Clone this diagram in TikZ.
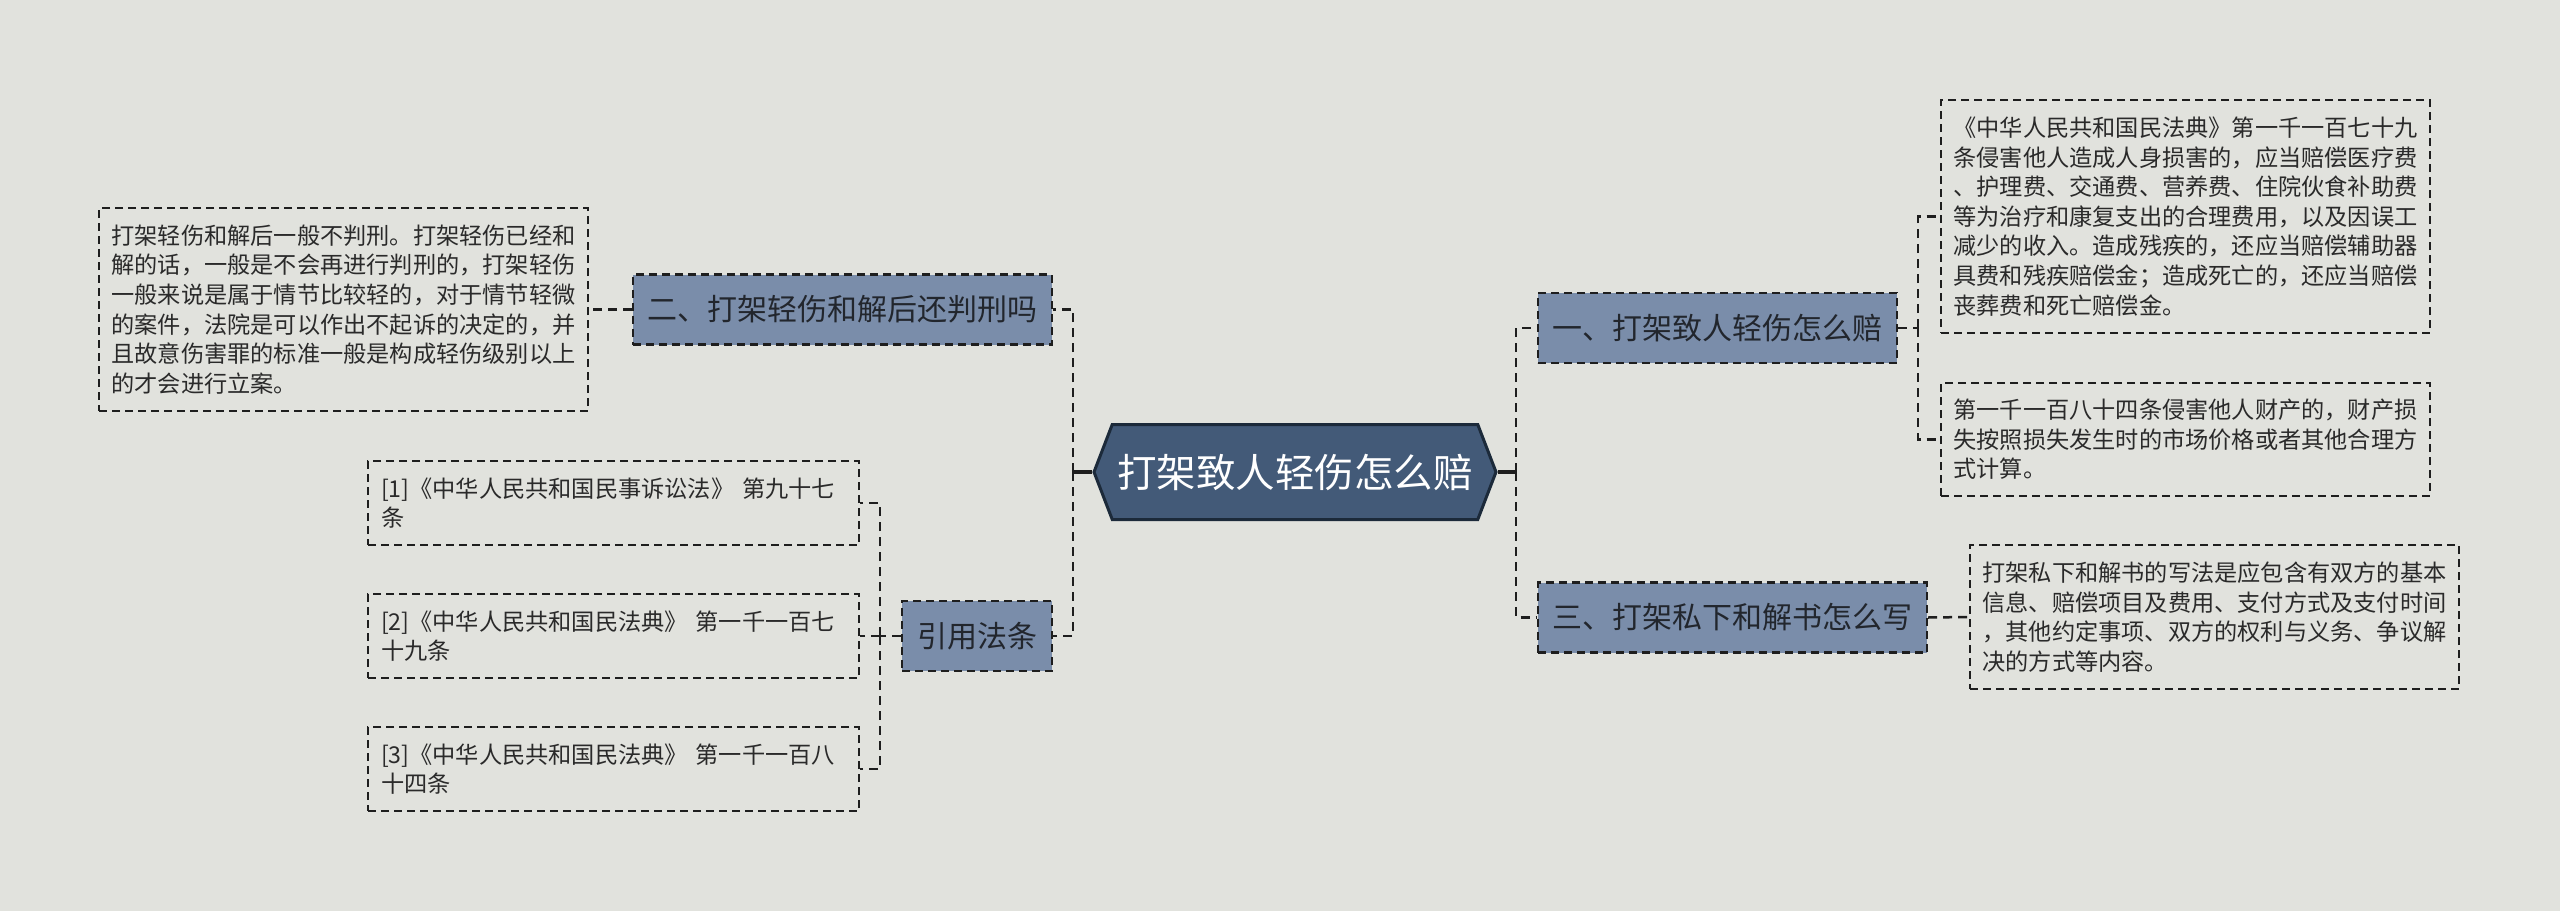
\documentclass[tikz,border=0pt]{standalone}
\usepackage{fontspec}
\usetikzlibrary{shapes.symbols}
\newfontfamily\cjk{Noto Sans CJK SC}
\definecolor{bgc}{HTML}{E1E2DD}
\definecolor{mainfill}{HTML}{435A78}
\definecolor{mainedge}{HTML}{1C2A3A}
\definecolor{lvfill}{HTML}{7A8DAA}
\definecolor{edgec}{HTML}{1E1E1E}
\definecolor{leaftext}{HTML}{2A2A2A}
\definecolor{lvtext}{HTML}{22262D}
\tikzset{
  mainnode/.style={signal, signal to=east and west, signal pointer angle=138,
    fill=mainfill, draw=mainedge, line width=3pt, text=white,
    minimum width=402pt, minimum height=95pt, inner sep=0pt,
    font={\cjk\fontsize{39.5}{44}\selectfont}},
  lvnode/.style={rectangle, fill=lvfill, draw=edgec, line width=2.2pt,
    dash pattern=on 8pt off 5pt, text=lvtext, inner sep=0pt,
    minimum height=70pt, font={\cjk\fontsize{30}{36}\selectfont}},
  leaf/.style={rectangle, draw=edgec, line width=2pt, dash pattern=on 8pt off 5pt,
    text=leaftext, align=left, text width=464pt, inner xsep=12.5pt, inner ysep=0pt,
    font={\cjk\fontsize{23.2}{29.6}\selectfont}},
  citeleaf/.style={leaf, text width=465pt, inner xsep=13pt, minimum height=84pt},
  conn/.style={draw=edgec, line width=2.5pt, dash pattern=on 9pt off 6pt},
  solidconn/.style={draw=edgec, line width=3.5pt},
}
\begin{document}
\begin{tikzpicture}[x=1pt,y=-1pt]
\fill[bgc] (0,0) rectangle (2560,911);
\useasboundingbox (0,0) rectangle (2560,911);

% central
\node[mainnode] (c) at (1295,472) {打架致人轻伤怎么赔};

% level 1
\node[lvnode, minimum width=359pt] (n1) at (1717.5,328) {一、打架致人轻伤怎么赔};
\node[lvnode, minimum width=389pt] (n3) at (1732.5,617.5) {三、打架私下和解书怎么写};
\node[lvnode, minimum width=419pt] (n2) at (842.5,309.5) {二、打架轻伤和解后还判刑吗};
\node[lvnode, minimum width=150pt] (n4) at (977,636) {引用法条};

% right leaves
\node[leaf, minimum height=233pt] (r1) at (2185.5,216.5) {《中华人民共和国民法典》第一千一百七十九\\条侵害他人造成人身损害的，应当赔偿医疗费\\、护理费、交通费、营养费、住院伙食补助费\\等为治疗和康复支出的合理费用，以及因误工\\减少的收入。造成残疾的，还应当赔偿辅助器\\具费和残疾赔偿金；造成死亡的，还应当赔偿\\丧葬费和死亡赔偿金。};
\node[leaf, minimum height=113pt] (r2) at (2185.5,439.5) {第一千一百八十四条侵害他人财产的，财产损\\失按照损失发生时的市场价格或者其他合理方\\式计算。};
\node[leaf, minimum height=144pt] (r3) at (2214.5,617) {打架私下和解书的写法是应包含有双方的基本\\信息、赔偿项目及费用、支付方式及支付时间\\，其他约定事项、双方的权利与义务、争议解\\决的方式等内容。};

% left leaves
\node[leaf, minimum height=203pt] (l1) at (343.5,309.5) {打架轻伤和解后一般不判刑。打架轻伤已经和\\解的话，一般是不会再进行判刑的，打架轻伤\\一般来说是属于情节比较轻的，对于情节轻微\\的案件，法院是可以作出不起诉的决定的，并\\且故意伤害罪的标准一般是构成轻伤级别以上\\的才会进行立案。};
\node[citeleaf] (c1) at (613.5,503) {[1]《中华人民共和国民事诉讼法》 第九十七\\条};
\node[citeleaf] (c2) at (613.5,636) {[2]《中华人民共和国民法典》 第一千一百七\\十九条};
\node[citeleaf] (c3) at (613.5,769) {[3]《中华人民共和国民法典》 第一千一百八\\十四条};

% junction coordinates
\coordinate (jr) at (1516,472);
\coordinate (jl) at (1073,472);
\coordinate (j1) at (1918,328);
\coordinate (j4) at (880,636);

% connectors from center
\draw[solidconn] (c.east) -- (jr);
\draw[solidconn] (c.west) -- (jl);
\draw[conn] (jr) |- (n1.west);
\draw[conn] (jr) |- (n3.west);
\draw[conn] (jl) |- (n2.east);
\draw[conn] (jl) |- (n4.east);

% level1 to leaves
\draw[conn] (n1.east) -- (j1);
\draw[conn] (j1) |- (r1.west);
\draw[conn] (j1) |- (r2.west);
\draw[conn] (n3.east) -- (r3.west);
\draw[conn] (n2.west) -- (l1.east);
\draw[conn] (n4.west) -- (j4);
\draw[conn] (j4) |- (c1.east);
\draw[conn] (j4) -- (c2.east);
\draw[conn] (j4) |- (c3.east);
\end{tikzpicture}
\end{document}
